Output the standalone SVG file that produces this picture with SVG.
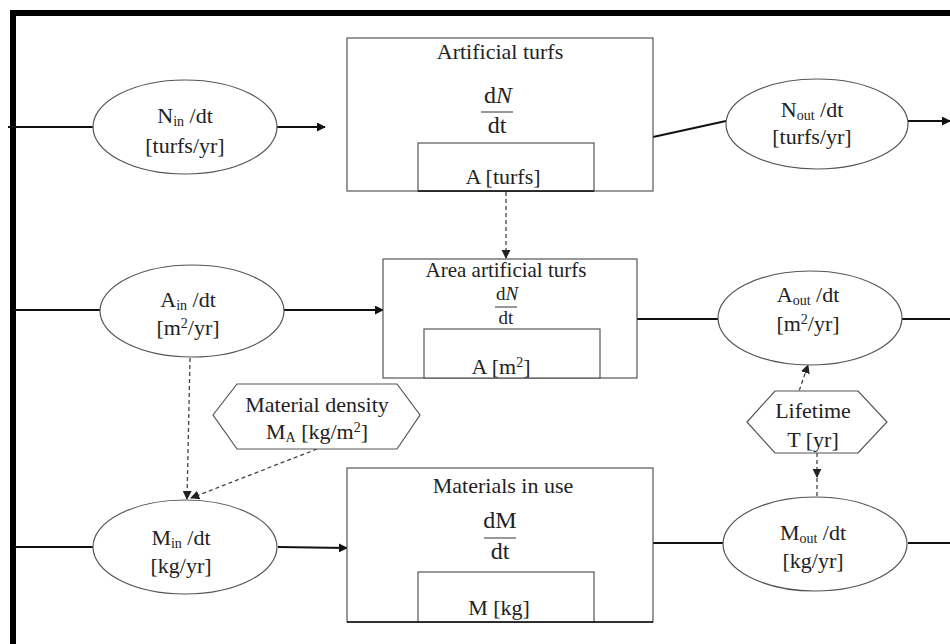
<svg xmlns="http://www.w3.org/2000/svg" width="950" height="644" viewBox="0 0 950 644">
<style>
text{font-family:"Liberation Serif","Times New Roman",serif;fill:#222;font-size:22px;text-anchor:middle}
.box{fill:#fff;stroke:#555;stroke-width:1.2}
.ell{fill:#fff;stroke:#555;stroke-width:1.2}
.hex{fill:#fff;stroke:#555;stroke-width:1.2}
.flow{stroke:#111;stroke-width:2;fill:none}
.dash{stroke:#444;stroke-width:1.3;stroke-dasharray:4 3;fill:none}
.frac{stroke:#333;stroke-width:1}
.sub{font-size:14px}
.f24{font-size:24px}
.f19{font-size:19px}
.f21{font-size:21px}
</style>
<defs>
<marker id="ah" viewBox="0 0 10 10" refX="9" refY="5" markerWidth="4.5" markerHeight="4.5" orient="auto" markerUnits="strokeWidth">
<path d="M0,0 L10,5 L0,10 z" fill="#111"/>
</marker>
<marker id="ahd" viewBox="0 0 10 10" refX="9" refY="5" markerWidth="7" markerHeight="7" orient="auto" markerUnits="strokeWidth">
<path d="M0,0 L10,5 L0,10 z" fill="#222"/>
</marker>
</defs>
<rect width="950" height="644" fill="#fff"/>
<g id="frame">
<line x1="10" y1="13" x2="950" y2="13" stroke="#000" stroke-width="6"/>
<line x1="13" y1="10" x2="13" y2="644" stroke="#000" stroke-width="6"/>
</g>

<g id="connectors">
<line class="flow" x1="8" y1="127" x2="93" y2="127"/>
<line class="flow" x1="277" y1="127" x2="325" y2="127" marker-end="url(#ah)"/>
<line class="flow" x1="575" y1="73" x2="575" y2="143" marker-end="url(#ah)"/>
<line class="flow" x1="653" y1="137" x2="726" y2="121"/>
<line class="flow" x1="908" y1="121" x2="950" y2="121" marker-end="url(#ah)"/>
<line class="dash" x1="506" y1="192" x2="506" y2="258" marker-end="url(#ahd)"/>
<line class="flow" x1="13" y1="310" x2="100" y2="310"/>
<line class="flow" x1="283" y1="310" x2="383" y2="310" marker-end="url(#ah)"/>
<line class="flow" x1="547" y1="295" x2="547" y2="329" marker-end="url(#ah)"/>
<line class="flow" x1="637" y1="319" x2="718" y2="319"/>
<line class="flow" x1="902" y1="319" x2="950" y2="319"/>
<line class="dash" x1="190" y1="358" x2="187" y2="499" marker-end="url(#ahd)"/>
<line class="dash" x1="317" y1="449" x2="191" y2="498" marker-end="url(#ahd)"/>
<line class="dash" x1="797" y1="397" x2="808" y2="365" marker-end="url(#ahd)"/>
<line class="dash" x1="817" y1="453" x2="817" y2="477" marker-end="url(#ahd)"/>
<line class="dash" x1="817" y1="478" x2="817" y2="497"/>
<line class="flow" x1="13" y1="547" x2="93" y2="547"/>
<line class="flow" x1="278" y1="547" x2="347" y2="548" marker-end="url(#ah)"/>
<line class="flow" x1="547" y1="509" x2="547" y2="572" marker-end="url(#ah)"/>
<line class="flow" x1="653" y1="543" x2="723" y2="543"/>
<line class="flow" x1="908" y1="543" x2="950" y2="543"/>
</g>

<g id="n_in">
<ellipse class="ell" cx="185" cy="127" rx="92" ry="47"/>
<text x="185" y="123">N<tspan class="sub" dy="3">in</tspan><tspan dy="-3"> /dt</tspan></text>
<text x="185" y="153">[turfs/yr]</text>
</g>

<g id="artificial_turfs">
<rect class="box" x="347" y="38" width="306" height="153"/>
<text x="500" y="59">Artificial turfs</text>
<text class="f24" x="498" y="103">d<tspan font-style="italic">N</tspan></text>
<line class="frac" x1="481" y1="112" x2="513" y2="112"/>
<text class="f24" x="497" y="133">dt</text>
<rect class="box" x="418" y="143" width="176" height="48"/>
<line x1="418" y1="191" x2="594" y2="191" stroke="#111" stroke-width="1.5"/>
<text x="503" y="184">A [turfs]</text>
</g>

<g id="n_out">
<ellipse class="ell" cx="817" cy="124" rx="91" ry="45"/>
<text x="812" y="117">N<tspan class="sub" dy="3">out</tspan><tspan dy="-3"> /dt</tspan></text>
<text x="812" y="144">[turfs/yr]</text>
</g>

<g id="a_in">
<ellipse class="ell" cx="192" cy="311" rx="92" ry="46"/>
<text x="188" y="307">A<tspan class="sub" dy="3">in</tspan><tspan dy="-3"> /dt</tspan></text>
<text x="188" y="335">[m<tspan class="sub" dy="-7">2</tspan><tspan dy="7">/yr]</tspan></text>
</g>

<g id="area_artificial_turfs">
<rect class="box" x="383" y="259" width="254" height="119"/>
<text class="f21" x="506" y="277">Area artificial turfs</text>
<text class="f19" x="507" y="300">d<tspan font-style="italic">N</tspan></text>
<line class="frac" x1="495" y1="307" x2="517" y2="307"/>
<text class="f19" x="506" y="324">dt</text>
<rect class="box" x="424" y="329" width="176" height="49"/>
<text x="501" y="374">A [m<tspan class="sub" dy="-7">2</tspan><tspan dy="7">]</tspan></text>
</g>

<g id="a_out">
<ellipse class="ell" cx="810" cy="318" rx="92" ry="47"/>
<text x="808" y="302">A<tspan class="sub" dy="3">out</tspan><tspan dy="-3"> /dt</tspan></text>
<text x="808" y="331">[m<tspan class="sub" dy="-7">2</tspan><tspan dy="7">/yr]</tspan></text>
</g>

<g id="material_density">
<polygon class="hex" points="213,415 237,384 397,384 420,415 397,449 237,449"/>
<text x="317" y="412">Material density</text>
<text x="317" y="439">M<tspan class="sub" dy="3">A</tspan><tspan dy="-3"> [kg/m</tspan><tspan class="sub" dy="-7">2</tspan><tspan dy="7">]</tspan></text>
</g>

<g id="lifetime">
<polygon class="hex" points="747,422 775,391 858,391 887,422 858,453 775,453"/>
<text x="813" y="418">Lifetime</text>
<text x="813" y="447">T [yr]</text>
</g>

<g id="m_in">
<ellipse class="ell" cx="185" cy="547" rx="92" ry="47"/>
<text x="181" y="545">M<tspan class="sub" dy="3">in</tspan><tspan dy="-3"> /dt</tspan></text>
<text x="181" y="573">[kg/yr]</text>
</g>

<g id="materials_in_use">
<rect class="box" x="347" y="468" width="306" height="154"/>
<text x="503" y="493">Materials in use</text>
<text class="f24" x="500" y="528">dM</text>
<line class="frac" x1="484" y1="538" x2="516" y2="538"/>
<text class="f24" x="500" y="559">dt</text>
<rect class="box" x="418" y="572" width="176" height="50"/>
<line x1="347" y1="622" x2="653" y2="622" stroke="#111" stroke-width="1.5"/>
<text x="499" y="615">M [kg]</text>
</g>

<g id="m_out">
<ellipse class="ell" cx="815" cy="544" rx="92" ry="47"/>
<text x="813" y="540">M<tspan class="sub" dy="3">out</tspan><tspan dy="-3"> /dt</tspan></text>
<text x="813" y="568">[kg/yr]</text>
</g>
</svg>
